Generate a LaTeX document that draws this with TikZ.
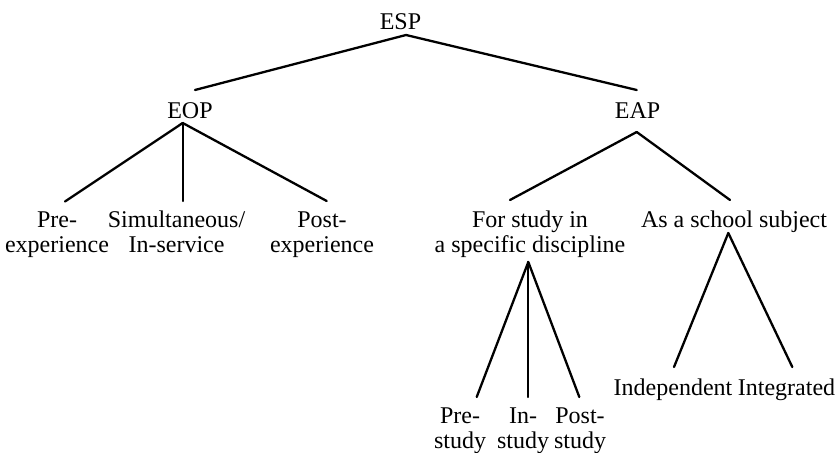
\documentclass[tikz,border=0pt]{standalone}
\usepackage{fontspec}
\setmainfont{Liberation Serif}
\usetikzlibrary{positioning}
\begin{document}
\begin{tikzpicture}[x=0.5pt, y=-0.5pt,
  lbl/.style={inner sep=0pt, anchor=base, align=center,
              font=\fontsize{12}{12.5}\selectfont},
  br/.style={line width=1.15pt, line cap=round}]
  \useasboundingbox (0,0) rectangle (838,453);
  % labels
  \node[lbl] (esp) at (400.5,30) {ESP};
  \node[lbl] (eop) at (190,119)  {EOP};
  \node[lbl] (eap) at (637.5,119) {EAP};
  \node[lbl] (pre) at (57,253)   {Pre-\\experience};
  \node[lbl] (sim) at (176.5,253) {Simultaneous/\\In-service};
  \node[lbl] (post) at (322,253) {Post-\\experience};
  \node[lbl] (for) at (530,253)  {For study in\\a specific discipline};
  \node[lbl] (as) at (734,228)   {As a school subject};
  \node[lbl] (prs) at (460,448)  {Pre-\\study};
  \node[lbl] (ins) at (523,448)  {In-\\study};
  \node[lbl] (pos) at (580,448)  {Post-\\study};
  \node[lbl] (ind) at (673,395)  {Independent};
  \node[lbl] (int) at (786.5,395) {Integrated};
  % branch points
  \coordinate (esp-j) at (406,35);
  \coordinate (eop-j) at (182.7,123);
  \coordinate (eap-j) at (636.7,132);
  \coordinate (for-j) at (528.3,262);
  \coordinate (as-j)  at (728.3,233);
  \coordinate (eop-t) at (195,90);
  \coordinate (eap-t) at (636.7,90);
  \coordinate (pre-t) at (65,201.5);
  \coordinate (sim-t) at (182.7,201);
  \coordinate (post-t) at (326.7,201);
  \coordinate (for-t) at (510,200);
  \coordinate (as-t)  at (730,200);
  \coordinate (prs-t) at (476.7,397);
  \coordinate (ins-t) at (528.3,397);
  \coordinate (pos-t) at (579.3,397);
  \coordinate (ind-t) at (674,367);
  \coordinate (int-t) at (792.3,367);
  % branches
  \foreach \c in {eop,eap} \draw[br] (esp-j) -- (\c-t);
  \foreach \c in {pre,sim,post} \draw[br] (eop-j) -- (\c-t);
  \foreach \c in {for,as} \draw[br] (eap-j) -- (\c-t);
  \foreach \c in {prs,ins,pos} \draw[br] (for-j) -- (\c-t);
  \foreach \c in {ind,int} \draw[br] (as-j) -- (\c-t);
\end{tikzpicture}
\end{document}
